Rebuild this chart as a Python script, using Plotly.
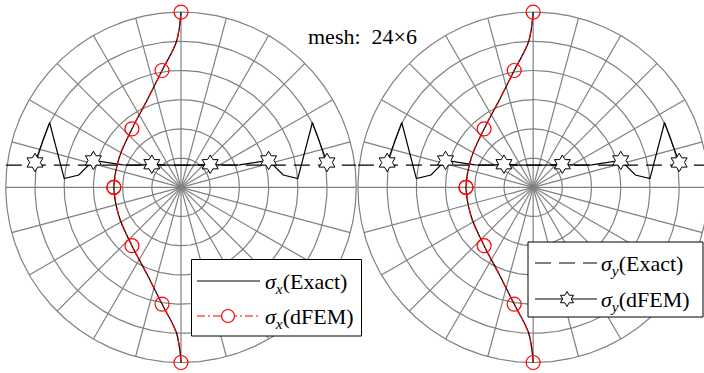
import numpy as np
import plotly.graph_objects as go

W, H = 704, 373

# ---- mesh description: 24 sectors x 6 rings on a disc of radius 6 ----
n_sectors = 24
n_rings = 6
disc_radius = 6.0
panel_centers = [0.0, 12.06]

# ---- sigma_x along the vertical centre line (horizontal offset of the curve) ----
sx_y = [-6, -5, -4, -3, -2, -1, 0, 1, 2, 3, 4, 5, 6]
sx_exact = [0.0, -0.15, -0.65, -1.15, -1.68, -2.12, -2.30,
            -2.12, -1.68, -1.15, -0.65, -0.15, 0.0]
# dFEM nodal values (node at y=0 is shared by two elements)
sx_dfem_y = [-6, -5, -4, -3, -2, -1, 0, 0, 1, 2, 3, 4, 5, 6]
sx_dfem = [0.0, -0.16, -0.65, -1.16, -1.68, -2.13, -2.30, -2.30,
           -2.13, -1.68, -1.16, -0.65, -0.16, 0.0]

# ---- sigma_y along the horizontal line (vertical offset of the curve) ----
sy_exact_x = [-6, 6]
sy_exact = [0.76, 0.76]
sy_x = [-5, -4.5, -4, -3.5, -3, -2.5, -2, -1.5, -1, -0.5, 0,
        0.5, 1, 1.5, 2, 2.5, 3, 3.5, 4, 4.5, 5]
sy_dfem = [0.85, 2.22, 0.30, 0.42, 0.92, 0.85, 0.77, 0.76, 0.79, 0.76, 0.76,
           0.76, 0.79, 0.76, 0.77, 0.85, 0.92, 0.42, 0.30, 2.22, 0.85]

# ---- view: one data unit = 29.2 px, first disc centred at (181, 187.3) px ----
unit = 29.2
cx_px, cy_px = 181.0, 187.3
x_range = [-cx_px / unit, (W - cx_px) / unit]
y_range = [-(H - cy_px) / unit, cy_px / unit]

GRAY = "#808080"
RED = "#ff0000"
SERIF = "Liberation Serif"

fig = go.Figure()

theta = np.linspace(0, 2 * np.pi, 361)
for cx in panel_centers:
    xs, ys = [], []
    for k in range(1, n_rings + 1):
        r = disc_radius * k / n_rings
        xs += list(cx + r * np.cos(theta)) + [None]
        ys += list(r * np.sin(theta)) + [None]
    for j in range(n_sectors):
        a = 2 * np.pi * j / n_sectors
        xs += [cx, cx + disc_radius * np.cos(a), None]
        ys += [0.0, disc_radius * np.sin(a), None]
    fig.add_trace(go.Scatter(x=xs, y=ys, mode="lines",
                             line=dict(color=GRAY, width=1.2),
                             hoverinfo="skip", showlegend=False))

for cx in panel_centers:
    # sigma_y exact (dashed)
    fig.add_trace(go.Scatter(x=[cx + v for v in sy_exact_x], y=sy_exact,
                             mode="lines",
                             line=dict(color="black", width=1.2, dash="16px,8px"),
                             showlegend=False))
    # sigma_y dFEM (solid polyline)
    fig.add_trace(go.Scatter(x=[cx + v for v in sy_x], y=sy_dfem, mode="lines",
                             line=dict(color="black", width=1.2),
                             showlegend=False))
    # star markers on odd nodes
    mx = [cx + v for v, s in zip(sy_x, sy_dfem) if float(v).is_integer() and int(v) % 2]
    my = [s for v, s in zip(sy_x, sy_dfem) if float(v).is_integer() and int(v) % 2]
    fig.add_trace(go.Scatter(x=mx, y=my, mode="markers",
                             marker=dict(symbol="hexagram", size=14, color="white",
                                         line=dict(color="black", width=1)),
                             showlegend=False))
    # sigma_x exact (solid, smooth)
    fig.add_trace(go.Scatter(x=[cx + v for v in sx_exact], y=sx_y, mode="lines",
                             line=dict(color="black", width=1.2, shape="spline"),
                             showlegend=False))
    # sigma_x dFEM (dash-dot, smooth)
    fig.add_trace(go.Scatter(x=[cx + v for v in sx_dfem], y=sx_dfem_y, mode="lines",
                             line=dict(color=RED, width=1.2, shape="spline",
                                       dash="8px,3px,2px,3px"),
                             showlegend=False))
    # circle markers on even nodes
    cxs = [cx + v for yv, v in zip(sx_dfem_y, sx_dfem) if yv % 2 == 0]
    cys = [yv for yv in sx_dfem_y if yv % 2 == 0]
    fig.add_trace(go.Scatter(x=cxs, y=cys, mode="markers",
                             marker=dict(symbol="circle-open", size=14, color=RED,
                                         line=dict(color=RED, width=1.2)),
                             showlegend=False))


def px(x):
    return x / W


def py(y):
    return 1 - y / H


shapes = []
annotations = []


def legend_box(x0, y0, x1, y1):
    shapes.append(dict(type="rect", xref="paper", yref="paper",
                       x0=px(x0), x1=px(x1), y0=py(y0), y1=py(y1),
                       line=dict(color="black", width=1), fillcolor="white",
                       layer="above"))


def legend_line(x0, x1, y, color, dash):
    shapes.append(dict(type="line", xref="paper", yref="paper",
                       x0=px(x0), x1=px(x1), y0=py(y), y1=py(y),
                       line=dict(color=color, width=1.2, dash=dash), layer="above"))


def legend_text(x, y, txt):
    annotations.append(dict(x=px(x), y=py(y), xref="paper", yref="paper",
                            text=txt, showarrow=False, xanchor="left",
                            yanchor="middle",
                            font=dict(family=SERIF, size=22, color="black")))


def hexagram_path(R):
    pts = []
    for i in range(12):
        ang = np.pi / 2 + i * np.pi / 6
        rr = R if i % 2 == 0 else R / np.sqrt(3)
        pts.append((rr * np.cos(ang), rr * np.sin(ang)))
    return "M" + "L".join(f"{a:.2f},{b:.2f}" for a, b in pts) + "Z"


sig_x = "<i>σ</i><sub><i>x</i></sub>"
sig_y = "<i>σ</i><sub><i>y</i></sub>"

# left legend
legend_box(191.5, 259.5, 361.5, 336)
legend_line(197, 260, 281, "black", "solid")
legend_text(263, 283, sig_x + "(Exact)")
legend_line(197, 260, 316, RED, "8px,3px,2px,3px")
shapes.append(dict(type="circle", xref="paper", yref="paper",
                   xsizemode="pixel", ysizemode="pixel",
                   xanchor=px(228), yanchor=py(316),
                   x0=-6.5, x1=6.5, y0=-6.5, y1=6.5,
                   line=dict(color=RED, width=1.2), fillcolor="white",
                   layer="above"))
legend_text(263, 318, sig_x + "(dFEM)")

# right legend
legend_box(528, 242, 703, 317)
legend_line(535, 597, 263, "black", "16px,8px")
legend_text(599, 265, sig_y + "(Exact)")
legend_line(535, 597, 299, "black", "solid")
shapes.append(dict(type="path", xref="paper", yref="paper",
                   xsizemode="pixel", ysizemode="pixel",
                   xanchor=px(567), yanchor=py(299),
                   path=hexagram_path(7.5),
                   line=dict(color="black", width=1), fillcolor="white",
                   layer="above"))
legend_text(599, 301, sig_y + "(dFEM)")

# mesh label
annotations.append(dict(x=px(362), y=py(37), xref="paper", yref="paper",
                        text="mesh:  24×6", showarrow=False,
                        xanchor="center", yanchor="middle",
                        font=dict(family=SERIF, size=22, color="black")))

fig.update_layout(
    width=W, height=H,
    margin=dict(l=0, r=0, t=0, b=0),
    paper_bgcolor="white", plot_bgcolor="white",
    xaxis=dict(range=x_range, visible=False, fixedrange=True),
    yaxis=dict(range=y_range, visible=False, fixedrange=True),
    shapes=shapes, annotations=annotations,
    showlegend=False,
)

fig.write_html("out.html")
